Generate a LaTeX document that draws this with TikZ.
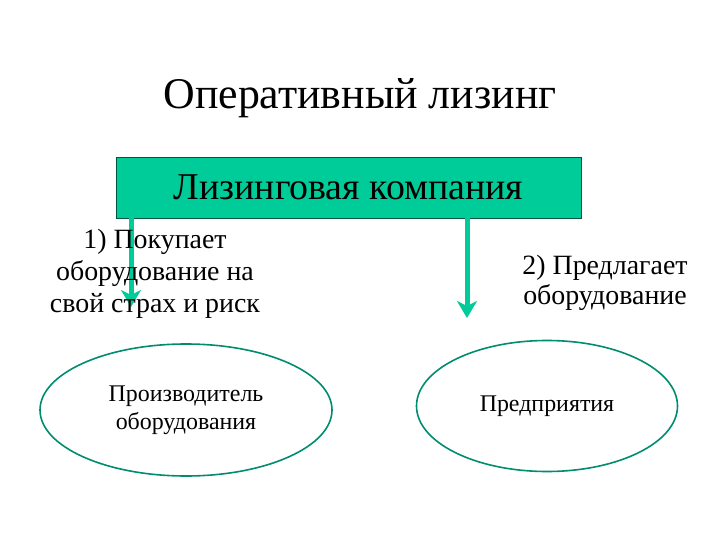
\documentclass[tikz,border=0pt]{standalone}
\usepackage{fontspec}
\setmainfont{Liberation Serif}
\usepackage{tikz}
\usetikzlibrary{shapes,arrows.meta}
\definecolor{leasegreen}{RGB}{0,204,153}
\definecolor{leaseedge}{RGB}{0,140,110}

\begin{document}
\begin{tikzpicture}[x=1bp,y=-1bp,
  companybox/.style = {draw=leaseedge!60!black, fill=leasegreen, minimum width=465bp, minimum height=61bp, inner sep=0pt},
  partner/.style = {draw=leaseedge, line width=1.6bp, ellipse, inner sep=0pt, align=center, font=\fontsize{24}{28}\selectfont},
  step label/.style = {align=center, font=\fontsize{28}{32}\selectfont},
  flow/.style = {draw=leasegreen, line width=5bp, -{Stealth[length=17bp,width=20bp,inset=5bp]}}]
\useasboundingbox (0,0) rectangle (720,540);
\node[font=\fontsize{44}{48}\selectfont] (title) at (360,98) {Оперативный лизинг};
\node[companybox, font=\fontsize{38}{42}\selectfont] (company) at (348.5,187.5) {Лизинговая компания};
\node[partner, minimum width=292bp, minimum height=132bp] (maker) at (186,410) {Производитель\\оборудования};
\node[partner, minimum width=261bp, minimum height=131bp] (firm) at (547,406) {Предприятия};
\coordinate (buy) at (131,307);
\coordinate (offer) at (467,318);
\draw[flow] (company.south -| buy) -- (buy);
\draw[flow] (company.south -| offer) -- (offer);
\node[step label] (buytext) at (155,274) {1) Покупает\\оборудование на\\свой страх и риск};
\node[step label, font=\fontsize{28}{30}\selectfont] (offertext) at (605,283) {2) Предлагает\\оборудование};
\end{tikzpicture}
\end{document}
